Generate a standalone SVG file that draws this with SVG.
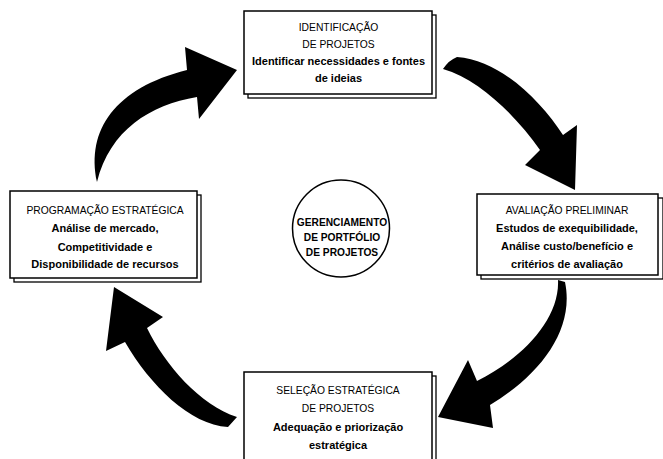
<svg xmlns="http://www.w3.org/2000/svg" width="663" height="459" viewBox="0 0 663 459">
<style>
.bx{fill:#fff;stroke:#000;stroke-width:1.5}
.sh{fill:#fff;stroke:#000;stroke-width:1.3}
.t{font-family:"Liberation Sans",Arial,sans-serif;font-size:10.3px;fill:#000;text-anchor:middle}
.b{font-family:"Liberation Sans",Arial,sans-serif;font-size:11px;font-weight:bold;fill:#000;text-anchor:middle}
.c{font-family:"Liberation Sans",Arial,sans-serif;font-size:10.2px;font-weight:bold;fill:#000;text-anchor:middle}
.ar{fill:#000;stroke:none}
</style>
<rect width="663" height="459" fill="#fff"/>
<g id="connectors">
<path class="ar" d="M97,182 C86,130 115,88 187,70 L185,47 L237,70 L199,119 L197,97 C150,105 110,130 97,182 Z"/>
<path class="ar" d="M443,69 Q449,60 457,57 C500,60 540,100 563,135 L577,125 L575,190 L525,165 L540,150 C515,115 480,80 443,69 Z"/>
<path class="ar" d="M558,280 L565,282 C575,330 540,375 490,405 L493,428 L438,417 L468,360 L477,381 C520,360 560,320 558,280 Z"/>
<path class="ar" d="M237,417 L228,427 C190,425 150,385 125,342 L106,351 L114,287 L163,317 L147,328 C165,365 200,405 237,417 Z"/>
</g>
<g id="identificacao">
<rect class="sh" x="248" y="15" width="188" height="83"/>
<rect class="bx" x="244" y="11" width="188" height="83"/>
<text class="t" x="338.5" y="31">IDENTIFICAÇÃO</text>
<text class="t" x="338.5" y="47.5">DE PROJETOS</text>
<text class="b" x="338.5" y="65">Identificar necessidades e fontes</text>
<text class="b" x="338.5" y="82">de ideias</text>
</g>
<g id="programacao">
<rect class="sh" x="14" y="195" width="187" height="87"/>
<rect class="bx" x="10" y="191" width="187" height="87"/>
<text class="t" x="105" y="214">PROGRAMAÇÃO ESTRATÉGICA</text>
<text class="b" x="105" y="232">Análise de mercado,</text>
<text class="b" x="105" y="250.5">Competitividade e</text>
<text class="b" x="105" y="268">Disponibilidade de recursos</text>
</g>
<g id="avaliacao">
<rect class="sh" x="481" y="198" width="182" height="81"/>
<rect class="bx" x="477" y="194" width="181" height="81"/>
<text class="t" x="567" y="214">AVALIAÇÃO PRELIMINAR</text>
<text class="b" x="567" y="232">Estudos de exequibilidade,</text>
<text class="b" x="567" y="250">Análise custo/benefício e</text>
<text class="b" x="567" y="268">critérios de avaliação</text>
</g>
<g id="selecao">
<rect class="sh" x="248" y="376" width="188" height="90"/>
<rect class="bx" x="244" y="372" width="188" height="90"/>
<text class="t" x="338" y="394">SELEÇÃO ESTRATÉGICA</text>
<text class="t" x="338" y="412">DE PROJETOS</text>
<text class="b" x="338" y="430.5">Adequação e priorização</text>
<text class="b" x="338" y="449">estratégica</text>
</g>
<g id="gerenciamento">
<circle class="bx" cx="341" cy="228.5" r="48.5"/>
<text class="c" x="342" y="225.5">GERENCIAMENTO</text>
<text class="c" x="342" y="240.5">DE PORTFÓLIO</text>
<text class="c" x="342" y="256">DE PROJETOS</text>
</g>
</svg>
